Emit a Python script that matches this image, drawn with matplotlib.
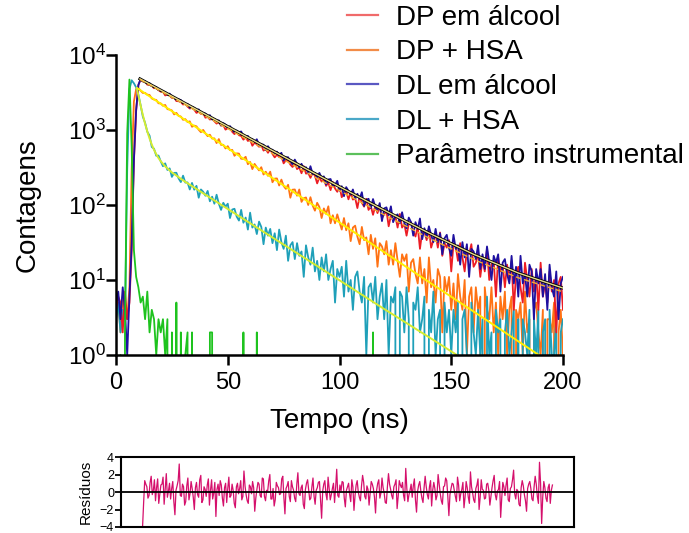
import numpy as np
import matplotlib
matplotlib.use("Agg")
import matplotlib.pyplot as plt
from matplotlib.lines import Line2D
from matplotlib.ticker import NullLocator

plt.rcParams['font.family'] = ['Liberation Sans', 'DejaVu Sans']
plt.rcParams['mathtext.fontset'] = 'custom'
plt.rcParams['mathtext.rm'] = 'Liberation Sans'

# tempo em ns (1 canal = 1 ns)
tempo = np.arange(0, 201)

# DP em alcool (vermelho)
dp_alcool = [
    4, 6, 5, 2, 7, 3, 5, 25, 380, 1800, 3950,
    4709, 4442, 4462, 4020, 4005, 3903, 3606, 3664, 3398, 3240,
    3248, 2889, 2961, 2884, 2682, 2730, 2430, 2420, 2367, 2186,
    2247, 2051, 1932, 1978, 1865, 1691, 1754, 1640, 1687, 1458,
    1497, 1378, 1421, 1308, 1217, 1274, 1143, 1161, 1011, 1060,
    1049, 946, 881, 957, 850, 835, 743, 804, 714, 743,
    617, 679, 644, 598, 632, 531, 559, 497, 557, 480,
    431, 469, 436, 446, 359, 394, 395, 346, 321, 368,
    301, 316, 265, 329, 262, 267, 230, 269, 246, 194,
    234, 205, 221, 180, 199, 158, 203, 166, 150, 177,
    127, 147, 154, 119, 146, 118, 124, 91, 131, 107,
    95, 121, 86, 97, 74, 96, 78, 97, 67, 75,
    84, 52, 72, 62, 71, 50, 76, 50, 56, 39,
    56, 59, 44, 38, 52, 26, 44, 44, 34, 48,
    27, 34, 40, 27, 43, 21, 31, 27, 34, 13,
    30, 28, 18, 31, 20, 13, 25, 22, 30, 15,
    17, 23, 11, 19, 13, 26, 10, 16, 18, 6,
    20, 13, 16, 8, 16, 10, 18, 4, 12, 15,
    8, 5, 17, 10, 6, 14, 7, 12, 4, 17,
    6, 9, 5, 13, 7, 10, 2, 9, 11, 4,
]

# DP + HSA (laranja)
dp_hsa = [
    3, 5, 2, 6, 4, 3, 8, 300, 2400, 3500,
    3634, 3346, 3115, 3125, 2959, 2931, 2634, 2548, 2518, 2269,
    2266, 2105, 2158, 1897, 1874, 1822, 1614, 1692, 1546, 1512,
    1367, 1396, 1278, 1303, 1104, 1145, 1119, 1008, 934, 1003,
    902, 828, 865, 769, 773, 669, 757, 633, 634, 567,
    609, 538, 543, 453, 488, 484, 414, 411, 439, 350,
    375, 301, 353, 319, 289, 319, 255, 278, 245, 278,
    201, 225, 226, 182, 218, 179, 164, 186, 125, 160,
    161, 133, 161, 110, 123, 126, 100, 127, 98, 84,
    107, 94, 67, 90, 76, 96, 57, 73, 57, 75,
    59, 47, 67, 46, 57, 33, 50, 53, 38, 30,
    51, 34, 37, 22, 40, 26, 36, 15, 31, 28,
    22, 33, 16, 25, 16, 31, 18, 11, 22, 18,
    22, 7, 17, 19, 12, 9, 20, 9, 14, 5,
    20, 8, 10, 5, 14, 11, 2, 11, 7, 11,
    4, 9, 3, 12, 6, 4, 10, 1, 6, 8,
    2, 8, 4, 6, 0, 8, 4, 3, 8, 2,
    5, 1, 6, 3, 7, 1, 4, 6, 0, 4,
    3, 5, 1, 7, 2, 3, 0, 4, 5, 2,
    1, 4, 0, 3, 3, 2, 5, 0, 2, 4, 1,
]

# DL em alcool (azul)
dl_alcool = [
    5, 7, 3, 8, 4, 1, 6, 30, 400, 1850, 4000,
    4778, 4471, 4479, 4215, 4218, 3871, 3807, 3748, 3403, 3436,
    3258, 3219, 2966, 3054, 2779, 2731, 2525, 2568, 2507, 2322,
    2206, 2234, 1980, 2040, 1977, 1844, 1881, 1678, 1674, 1660,
    1519, 1578, 1379, 1406, 1335, 1342, 1152, 1235, 1177, 1074,
    1127, 1016, 934, 983, 932, 956, 828, 816, 834, 725,
    754, 692, 752, 629, 641, 637, 538, 608, 544, 545,
    479, 515, 463, 496, 391, 432, 433, 378, 347, 403,
    353, 318, 354, 304, 319, 263, 329, 258, 267, 232,
    268, 230, 241, 188, 219, 222, 181, 185, 210, 155,
    178, 131, 173, 154, 138, 161, 121, 141, 121, 148,
    97, 117, 121, 91, 120, 94, 86, 106, 61, 90,
    93, 73, 96, 59, 71, 75, 57, 80, 58, 49,
    68, 59, 39, 59, 48, 66, 35, 49, 37, 52,
    40, 32, 48, 32, 42, 22, 36, 40, 27, 21,
    40, 26, 29, 16, 32, 20, 30, 11, 26, 24,
    19, 29, 14, 22, 14, 28, 17, 10, 21, 17,
    22, 7, 17, 19, 12, 9, 21, 9, 15, 6,
    21, 9, 12, 6, 16, 13, 3, 14, 9, 14,
    6, 12, 4, 16, 8, 6, 13, 3, 9, 11,
]

# DL + HSA (ciano)
dl_hsa = [
    3, 5, 2, 4, 3, 300, 3500, 4600, 4200, 3700,
    2965, 2141, 1505, 1248, 947, 841, 595, 562, 454, 456,
    382, 329, 359, 293, 308, 237, 268, 269, 226, 202,
    246, 199, 200, 161, 197, 160, 180, 125, 161, 150,
    133, 154, 112, 129, 104, 137, 104, 86, 107, 95,
    104, 67, 87, 89, 70, 62, 86, 58, 68, 47,
    79, 50, 55, 41, 60, 51, 30, 50, 39, 48,
    31, 42, 25, 47, 32, 26, 39, 18, 29, 32,
    19, 31, 21, 24, 11, 29, 20, 16, 27, 13,
    18, 10, 20, 13, 22, 10, 14, 18, 5, 14,
    11, 15, 6, 18, 7, 10, 4, 11, 13, 7,
    5, 11, 1, 8, 9, 5, 11, 3, 6, 9,
    3, 10, 1, 6, 5, 8, 0, 7, 6, 2,
    8, 3, 0, 5, 4, 8, 2, 3, 6, 0,
    4, 2, 7, 1, 3, 4, 0, 5, 2, 4,
    1, 4, 2, 5, 0, 3, 4, 1, 0, 5,
    2, 1, 4, 1, 3, 0, 6, 1, 2, 0,
    4, 2, 3, 0, 2, 4, 1, 2, 4, 0,
    3, 0, 3, 2, 1, 4, 0, 3, 1, 4,
    0, 2, 3, 0, 4, 1, 1, 3, 0, 2, 3,
]

# parametro instrumental (verde)
irf = [
    200, 0, 1, 0, 2, 900, 4700, 600, 25, 11,
    8, 5, 6, 3, 7, 2, 4, 3, 1, 3,
    2, 3, 1, 3, 0, 2, 0, 5, 0, 2,
    0, 1, 2, 0, 2, 0, 0, 0, 0, 0,
    0, 0, 2, 2, 0, 0, 0, 0, 0, 0,
    0, 0, 0, 0, 0, 0, 0, 2, 0, 0,
    0, 0, 0, 2, 0, 0, 0, 0, 0, 0,
    0, 0, 0, 0, 0, 0, 0, 0, 0, 0,
    0, 0, 0, 0, 0, 0, 0, 0, 0, 0,
    0, 0, 0, 0, 0, 0, 0, 0, 0, 0,
    0, 0, 0, 0, 0, 0, 0, 0, 0, 0,
    0, 0, 0, 0, 0, 2, 0, 0, 0, 0,
    0, 0, 0, 0, 0, 0, 0, 0, 0, 0,
    0, 0, 0, 0, 0, 0, 0, 0, 0, 0,
    0, 0, 0, 0, 0, 0, 0, 0, 0, 0,
    0, 0, 0, 0, 0, 0, 0, 0, 0, 0,
    0, 0, 0, 0, 0, 0, 0, 0, 0, 0,
    0, 0, 0, 0, 0, 0, 0, 0, 0, 0,
    0, 0, 0, 0, 0, 0, 0, 0, 0, 0,
    0, 0, 0, 0, 0, 0, 0, 0, 0, 0, 0,
]

# curvas ajustadas
fit_t_alcool = [10.7, 20, 40, 60, 80, 100, 120, 140, 160, 180, 200]
fit_dl_alcool = [4804, 3397, 1613, 767, 366, 175, 85.1, 42.3, 22.0, 12.4, 7.8]
fit_dp_alcool = [4708, 3295, 1529, 711, 331, 155.5, 74, 36.3, 18.8, 10.7, 6.95]
fit_t_dp_hsa = [9.4, 20, 40, 60, 80, 100, 120, 140, 160, 180, 200]
fit_dp_hsa = [3630, 2239, 900, 361.5, 145, 58.4, 23.5, 9.4, 3.8, 1.52, 0.61]
fit_t_dl_hsa = [9.3, 10, 11, 12, 13, 14, 15, 16, 17, 18, 19, 20, 22, 25, 30,
                40, 60, 80, 100, 120, 140, 160]
fit_dl_hsa = [3630, 2893, 2121, 1586, 1214, 953, 770, 639, 545, 475, 423, 384,
              327, 272, 213, 137, 57.1, 23.8, 9.9, 4.1, 1.73, 0.72]

# residuos (de 10 a 200 ns, passo de 0,5 ns)
residuos = [
    -4.0, -1.2, 1.3, 0.9, 0.6, -0.7, -0.4, 1.1, 1.8, -0.3,
    0.2, 1.4, -1.0, 0.5, 1.5, -1.3, -0.3, 0.8, 0.9, 1.7,
    -1.4, 0.3, 2.1, -0.6, 0.1, 1.0, -0.8, 0.4, 1.2, -1.1,
    -2.6, 0.2, 0.7, 1.3, 3.2, -0.4, -0.5, 0.9, 0.6, -1.5,
    -1.1, 0.7, 1.6, -0.9, -0.2, 1.2, 0.4, -0.6, -2.0, 0.5,
    1.1, -0.3, -0.6, 1.4, 1.9, -1.2, -0.9, 0.6, 0.3, -0.5,
    0.8, 1.5, -1.5, 0.2, 1.4, -0.8, -0.1, 1.1, -2.8, 0.3,
    0.9, -0.4, 1.3, 0.8, -0.7, -1.6, 0.5, 1.0, -1.2, 0.4,
    1.7, -0.6, -0.4, 0.9, 0.2, -1.3, -1.8, 0.6, 1.0, -0.2,
    0.4, 1.3, -0.9, -0.5, 2.4, 0.7, -0.3, -1.0, -1.3, 0.8,
    0.6, -0.2, 1.2, 0.5, -2.2, -0.7, 0.3, 1.1, 0.9, -0.4,
    -0.6, 1.6, 1.5, -0.5, -1.0, 0.2, 0.1, 1.3, 2.0, -0.8,
    -0.8, 0.4, -1.6, -0.9, 1.1, 0.7, 0.5, -0.3, -0.2, 1.5,
    1.8, -0.6, -2.5, 0.4, 0.7, 1.2, -0.5, -1.1, 1.3, 0.6,
    0.2, -0.7, -1.1, 0.9, 2.2, -0.2, -0.4, 0.5, 0.8, -1.4,
    -1.9, 0.3, 1.0, 1.4, 0.3, -0.9, -0.7, 0.6, 1.6, -0.5,
    -1.4, 0.2, 0.5, 1.1, 1.2, -0.8, -3.0, 0.1, 0.9, 1.3,
    -0.2, -0.9, 1.7, 0.4, -0.9, -0.3, 0.4, 1.0, -1.2, 0.5,
    2.6, -0.4, -0.6, 0.8, 0.1, 1.2, 1.1, -0.7, -1.7, 0.2,
    0.6, 1.0, -0.3, -1.1, 1.4, 0.6, -2.1, -0.4, 0.8, 1.3,
    0.0, -0.6, -1.0, 0.7, 1.9, 1.1, -0.5, -0.8, 0.7, 0.3,
    -1.5, -0.2, 1.2, 0.9, 0.4, -0.6, -2.4, 0.2, 1.0, 1.4,
    -0.7, -0.1, 1.6, 0.5, -0.1, -1.2, -1.3, 0.6, 2.1, 0.9,
    0.3, -0.4, -0.8, 0.6, 0.9, 1.4, -1.9, -0.5, 1.3, 0.8,
    0.5, 1.1, -0.4, -1.0, 2.7, 0.4, -1.1, -0.3, 0.2, 0.9,
    -0.6, 0.7, 1.5, -0.9, -2.3, 0.1, 0.8, 1.2, 0.1, -0.7,
    -1.2, 0.5, 1.8, 0.6, -0.3, -0.8, 0.6, 1.3, -1.6, 0.2,
    1.1, 0.4, -0.9, -0.4, 2.0, 0.9, -0.2, -1.0, -1.4, 0.6,
    0.7, 1.6, 1.3, -0.5, -2.7, -0.3, 0.4, 1.0, 0.9, 0.2,
    -0.5, -1.1, 1.7, 0.8, -1.0, -0.2, 0.3, 1.1, -1.8, -0.6,
    1.2, 0.5, -0.6, -1.3, 2.3, 0.6, -0.1, -0.9, -1.2, 0.4,
    0.8, 1.5, -2.0, -0.6, 1.4, 0.3, 0.2, -0.8, -0.7, 0.9,
    1.0, 0.2, -1.5, -0.5, 0.5, 1.3, 1.9, -0.3, -0.9, 0.1,
    0.3, 1.2, -2.9, -0.7, 1.1, 0.6, -0.4, 0.8, 1.6, -0.9,
    -1.1, 0.4, 0.6, 1.4, 2.5, -0.2, -0.8, 0.3, 0.1, -1.4,
    -1.6, 0.5, 1.3, 0.7, -0.3, -1.0, -2.2, 0.4, 0.9, 1.2,
    0.4, -0.8, -1.0, 0.6, 1.8, 0.9, -0.5, -1.3, 3.4, 1.0,
    -3.6, -0.6, 1.2, 0.5, -0.7, -1.1, 0.5, 0.9, -1.3, 0.2, 0.8,
]

c_red, c_orange, c_blue, c_cyan, c_green = '#ec1c24', '#ff7214', '#1e10a0', '#1fa0b9', '#1ec31e'

fig = plt.figure(figsize=(6.89, 5.33), dpi=100)
ax = fig.add_axes([0.1684, 0.3340, 0.6487, 0.5628])

ax.plot(tempo, dp_hsa, color=c_orange, lw=1.3)
ax.plot(tempo, dl_hsa, color=c_cyan, lw=1.3)
ax.plot(tempo, dp_alcool, color=c_red, lw=1.3)
ax.plot(tempo, dl_alcool, color=c_blue, lw=1.3)
ax.plot(tempo, irf, color=c_green, lw=1.3)

ax.plot(fit_t_alcool, fit_dl_alcool, color='black', lw=2.2)
ax.plot(fit_t_alcool, fit_dl_alcool, color='#e8dc8c', lw=1.0)
ax.plot(fit_t_alcool, fit_dp_alcool, color='#f0b030', lw=1.0, ls=(0, (4, 2)))
ax.plot(fit_t_dp_hsa, fit_dp_hsa, color='#fff000', lw=1.4)
ax.plot(fit_t_dl_hsa, fit_dl_hsa, color='#d4ec30', lw=1.4)

ax.set_yscale('log')
ax.set_ylim(1, 1e4)
ax.set_xlim(0, 200)
ax.set_xticks([0, 50, 100, 150, 200])
ax.set_yticks([1, 10, 100, 1000, 10000])
ax.set_yticklabels([r'$\mathregular{10^{%d}}$' % k for k in range(5)])
ax.yaxis.set_minor_locator(NullLocator())
for s in ['top', 'right']:
    ax.spines[s].set_visible(False)
for s in ['left', 'bottom']:
    ax.spines[s].set_linewidth(1.8)
ax.tick_params(axis='x', labelsize=17, length=7, width=1.8, pad=5)
ax.tick_params(axis='y', labelsize=17.5, length=7, width=1.8, pad=0)
ax.set_xlabel('Tempo (ns)', fontsize=20, labelpad=10)
ax.set_ylabel('Contagens', fontsize=20, labelpad=20)

handles = [Line2D([], [], color='#f06a6a', lw=1.6),
           Line2D([], [], color='#f28c48', lw=1.6),
           Line2D([], [], color='#5a58c2', lw=1.6),
           Line2D([], [], color='#4aa8c8', lw=1.6),
           Line2D([], [], color='#5cc05c', lw=1.6)]
labels = ['DP em álcool', 'DP + HSA', 'DL em álcool', 'DL + HSA', 'Parâmetro instrumental']
fig.legend(handles, labels, loc='upper left', bbox_to_anchor=(347 / 689, 0.991),
           bbox_transform=fig.transFigure, frameon=False, fontsize=20,
           handlelength=1.1, handletextpad=0.65, labelspacing=0.31,
           borderpad=0, borderaxespad=0)

# painel de residuos
axr = fig.add_axes([0.1756, 0.01126, 0.6575, 0.1313])
res_t = 10 + 0.5 * np.arange(len(residuos))
axr.plot(res_t, residuos, color='#d5106c', lw=0.9)
axr.axhline(0, color='black', lw=1.3)
axr.set_xlim(0, 210)
axr.set_ylim(-4, 4)
axr.set_yticks([-4, -2, 0, 2, 4])
axr.set_xticks([])
for s in axr.spines.values():
    s.set_linewidth(1.5)
axr.tick_params(axis='y', labelsize=9, length=4, width=1.3, pad=1)
axr.set_ylabel('Resíduos', fontsize=11, labelpad=5)

fig.savefig('out.png', dpi=100)
